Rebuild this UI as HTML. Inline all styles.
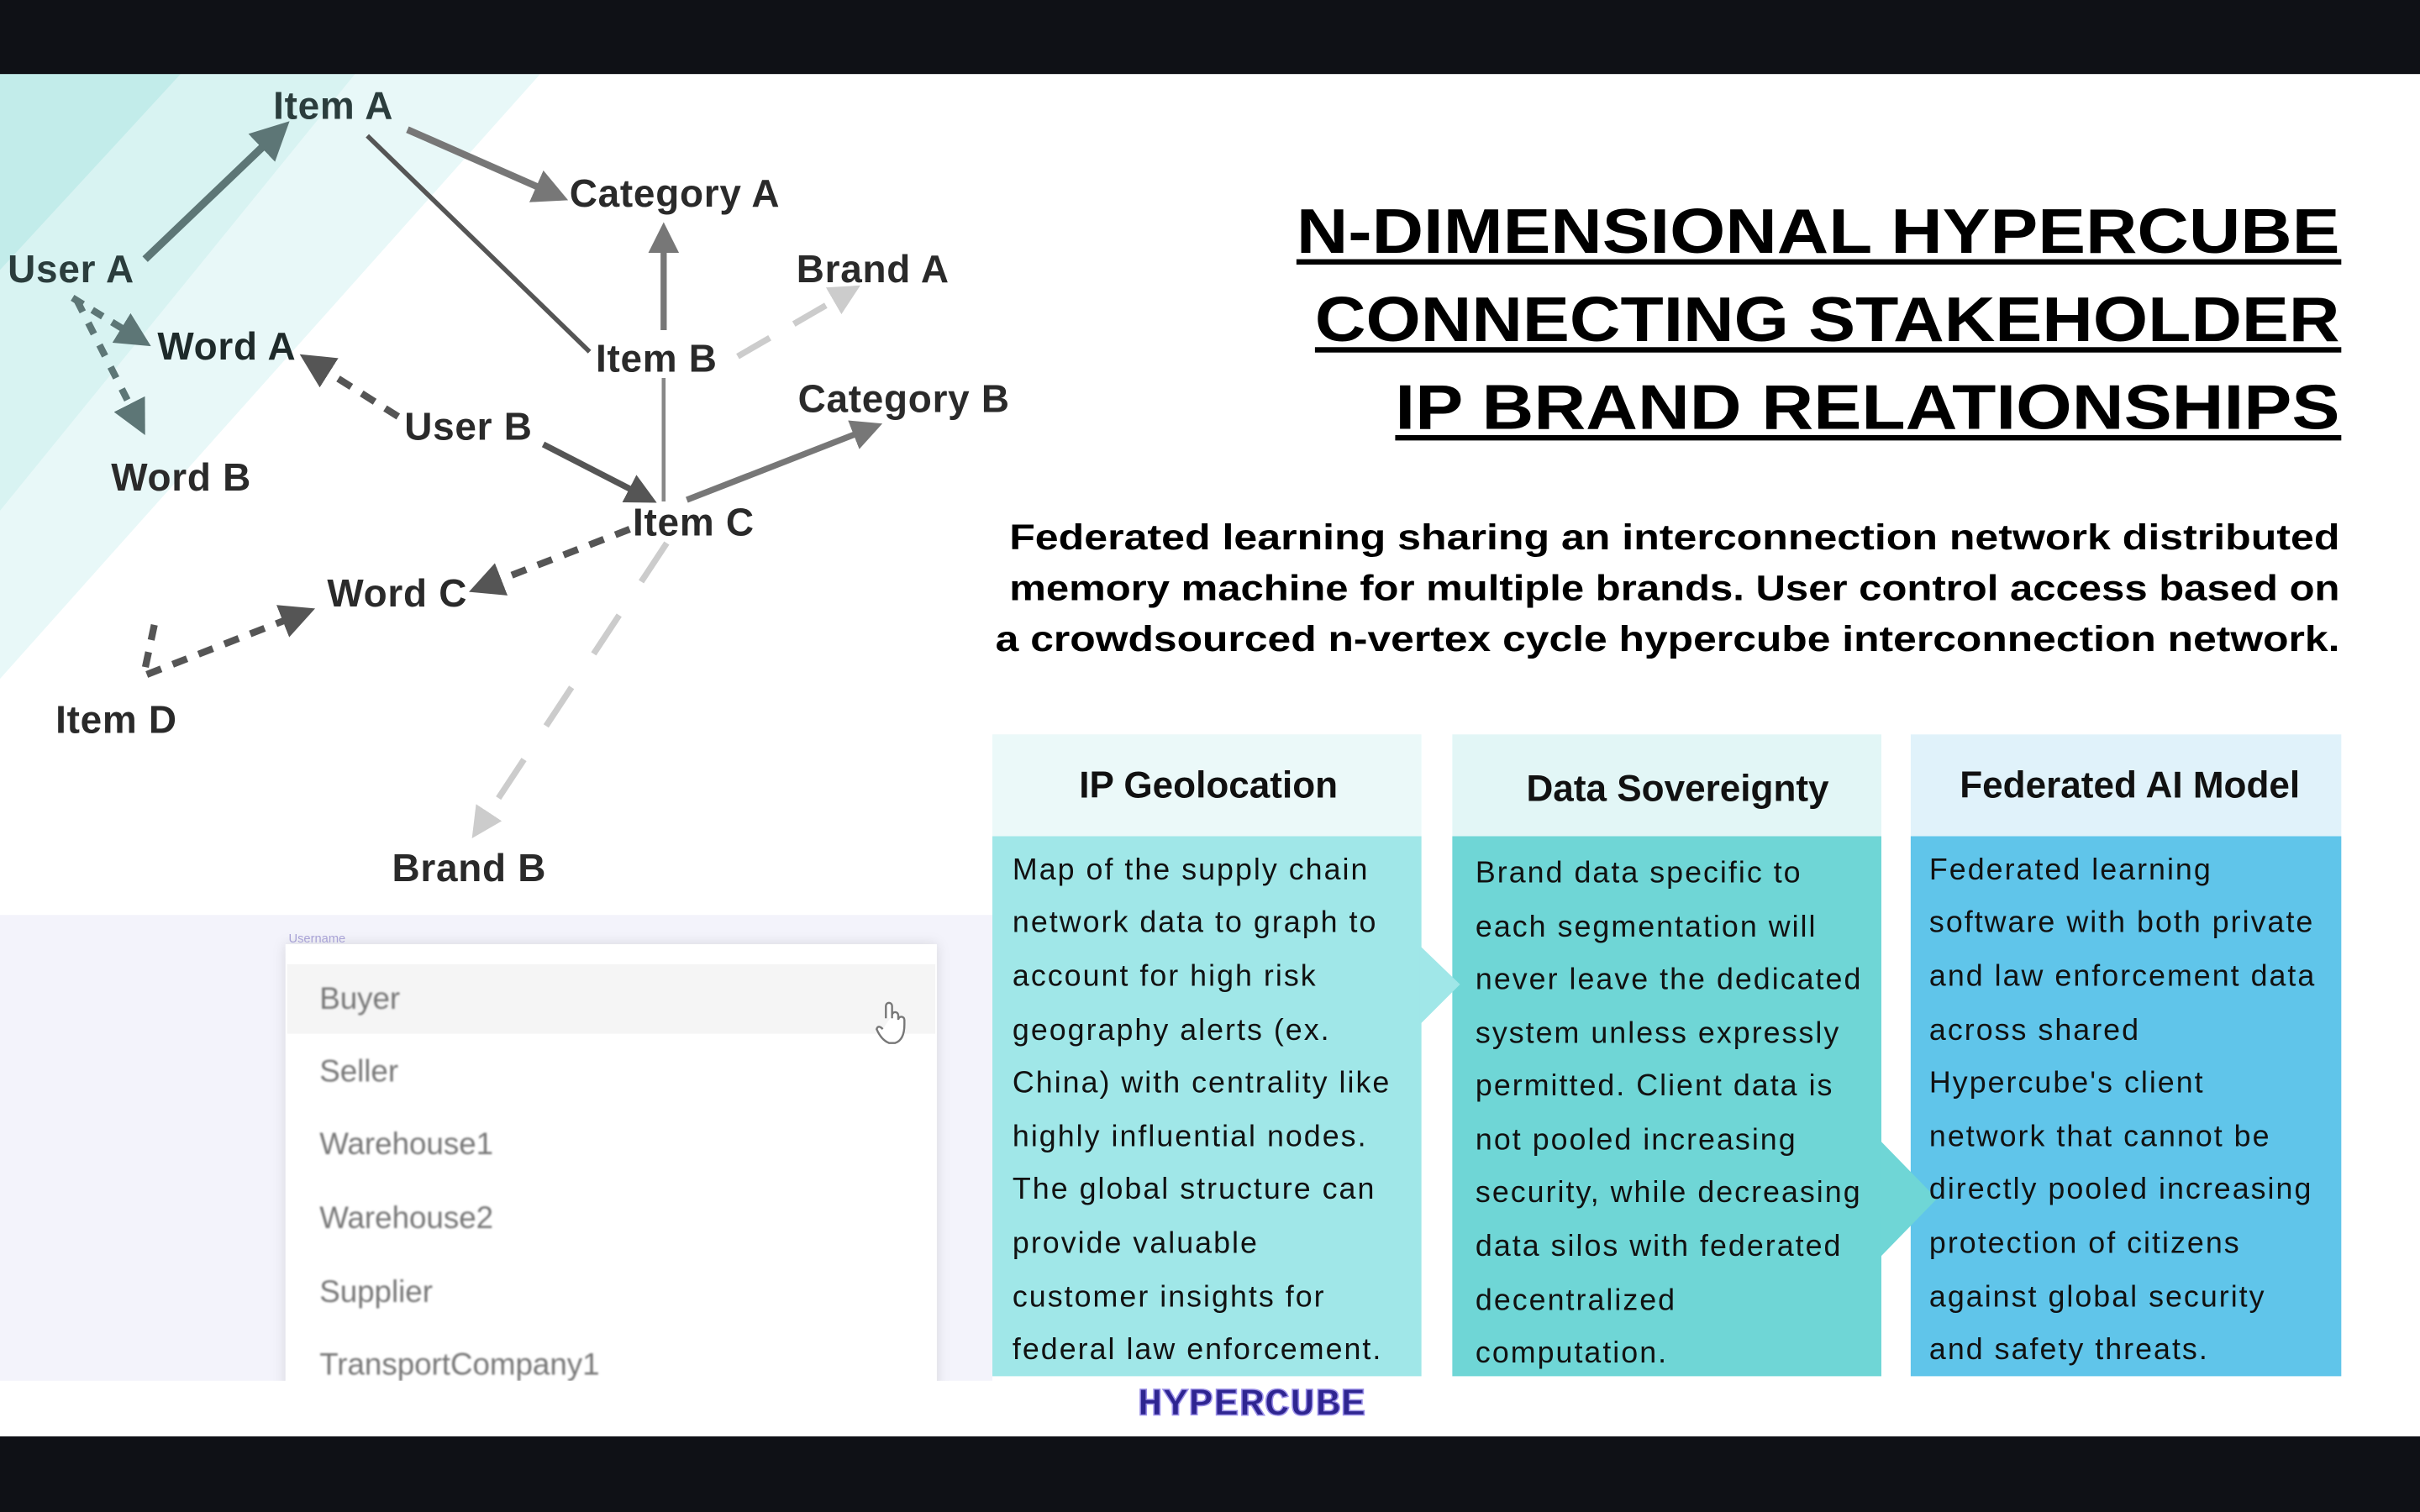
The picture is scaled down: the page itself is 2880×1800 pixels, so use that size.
<!DOCTYPE html>
<html><head><meta charset="utf-8"><style>
html,body{margin:0;padding:0;background:#fff;}
svg{display:block}
</style></head><body>
<svg width="2880" height="1800" viewBox="0 0 1568 980" xmlns="http://www.w3.org/2000/svg" font-family="Liberation Sans, sans-serif">
<defs>
<marker id="ad" viewBox="0 0 10 10" refX="8" refY="5" markerWidth="5" markerHeight="5" orient="auto"><path d="M0,0L10,5L0,10z" fill="#555"/></marker>
<marker id="at" viewBox="0 0 10 10" refX="8" refY="5" markerWidth="5" markerHeight="5" orient="auto"><path d="M0,0L10,5L0,10z" fill="#5d7676"/></marker>
<marker id="ag" viewBox="0 0 10 10" refX="8" refY="5" markerWidth="5" markerHeight="5" orient="auto"><path d="M0,0L10,5L0,10z" fill="#777"/></marker>
<marker id="al" viewBox="0 0 10 10" refX="8" refY="5" markerWidth="5" markerHeight="5" orient="auto"><path d="M0,0L10,5L0,10z" fill="#ccc"/></marker>
<filter id="sh" x="-10%" y="-10%" width="120%" height="120%"><feDropShadow dx="0" dy="0" stdDeviation="4" flood-color="#000" flood-opacity="0.12"/></filter>
<filter id="bl"><feGaussianBlur stdDeviation="0.6"/></filter>
</defs>
<rect width="1568" height="980" fill="#fff"/>
<polygon points="0,48 350,48 0,440" fill="#e8f8f8"/>
<polygon points="0,48 230,48 0,331" fill="#d8f3f2"/>
<polygon points="0,48 117,48 0,175" fill="#c2ecea"/>
<rect x="0" y="593" width="643" height="302" fill="#f3f3fb"/>
<rect x="185" y="612" width="422" height="300" fill="#fff" filter="url(#sh)"/>
<rect x="186" y="625" width="420" height="45" fill="#f5f5f5"/>
<text x="187" y="611" font-size="8" fill="#a9a3d6">Username</text>
<g font-size="20" fill="#777" filter="url(#bl)">
<text x="207" y="654">Buyer</text>
<text x="207" y="701">Seller</text>
<text x="207" y="748">Warehouse1</text>
<text x="207" y="796">Warehouse2</text>
<text x="207" y="844">Supplier</text>
<text x="207" y="891">TransportCompany1</text>
</g>
<path d="M574,660 v-8 a2,2 0 0 1 4,0 v8 M578,658 a2,2 0 0 1 4,0 v3 a2,2 0 0 1 4,0 v3 q0,10 -6,12 h-4 q-5,-2 -8,-9 q1,-3 4,0" fill="#fff" stroke="#777" stroke-width="1.3"/>
<rect x="0" y="895" width="1568" height="36" fill="#fff"/>
<rect x="0" y="0" width="1568" height="48" fill="#0f1116"/>
<rect x="0" y="931" width="1568" height="49" fill="#0f1116"/>
<g fill="none" stroke-linecap="butt">
<line x1="94" y1="168" x2="184" y2="82" stroke="#5d7676" stroke-width="5" marker-end="url(#at)"/>
<line x1="264" y1="84" x2="364" y2="128" stroke="#777" stroke-width="4.5" marker-end="url(#ag)"/>
<line x1="238" y1="88" x2="382" y2="228" stroke="#555" stroke-width="3"/>
<line x1="430" y1="214" x2="430" y2="148" stroke="#777" stroke-width="4" marker-end="url(#ag)"/>
<line x1="478" y1="231" x2="554" y2="187" stroke="#ccc" stroke-width="4" stroke-dasharray="24 18" marker-end="url(#al)"/>
<line x1="430" y1="245" x2="430" y2="325" stroke="#888" stroke-width="2.5"/>
<line x1="352" y1="288" x2="422" y2="324" stroke="#555" stroke-width="4" marker-end="url(#ad)"/>
<line x1="445" y1="324" x2="568" y2="276" stroke="#777" stroke-width="4" marker-end="url(#ag)"/>
<line x1="258" y1="270" x2="198" y2="232" stroke="#555" stroke-width="4.5" stroke-dasharray="10 8" marker-end="url(#ad)"/>
<line x1="408" y1="343" x2="308" y2="382" stroke="#555" stroke-width="4.5" stroke-dasharray="10 8" marker-end="url(#ad)"/>
<polyline points="100,405 93,438 200,396" stroke="#555" stroke-width="4.5" stroke-dasharray="10 8" marker-end="url(#ad)"/>
<line x1="47" y1="193" x2="94" y2="222" stroke="#5d7676" stroke-width="4.5" stroke-dasharray="8 7" marker-end="url(#at)"/>
<line x1="50" y1="195" x2="92" y2="278" stroke="#5d7676" stroke-width="4.5" stroke-dasharray="8 8" marker-end="url(#at)"/>
<line x1="432" y1="352" x2="308" y2="540" stroke="#ccc" stroke-width="4" stroke-dasharray="30 26" marker-end="url(#al)"/>
</g>
<g font-size="25" font-weight="bold" fill="#2a2a2a" letter-spacing="0.4">
<text x="177" y="77" fill="#2b3d3d">Item A</text>
<text x="369" y="134">Category A</text>
<text x="516" y="183">Brand A</text>
<text x="5" y="183" fill="#2b3d3d">User A</text>
<text x="102" y="233" fill="#1e2a2a">Word A</text>
<text x="386" y="241">Item B</text>
<text x="517" y="267">Category B</text>
<text x="262" y="285">User B</text>
<text x="72" y="318">Word B</text>
<text x="410" y="347">Item C</text>
<text x="212" y="393">Word C</text>
<text x="36" y="475">Item D</text>
<text x="254" y="571">Brand B</text>
</g>
<g font-size="41" font-weight="bold" fill="#000" text-anchor="end">
<text x="1516" y="164" textLength="676" lengthAdjust="spacingAndGlyphs">N-DIMENSIONAL HYPERCUBE</text>
<text x="1516" y="221" textLength="664" lengthAdjust="spacingAndGlyphs">CONNECTING STAKEHOLDER</text>
<text x="1516" y="278" textLength="612" lengthAdjust="spacingAndGlyphs">IP BRAND RELATIONSHIPS</text>
</g>
<rect x="840" y="168" width="677" height="3.5" fill="#000"/>
<rect x="852" y="225" width="665" height="3.5" fill="#000"/>
<rect x="904" y="282" width="613" height="3.5" fill="#000"/>
<g font-size="23" font-weight="bold" fill="#000" text-anchor="end">
<text x="1516" y="356" textLength="862" lengthAdjust="spacingAndGlyphs">Federated learning sharing an interconnection network distributed</text>
<text x="1516" y="389" textLength="862" lengthAdjust="spacingAndGlyphs">memory machine for multiple brands. User control access based on</text>
<text x="1516" y="422" textLength="871" lengthAdjust="spacingAndGlyphs">a crowdsourced n-vertex cycle hypercube interconnection network.</text>
</g>
<rect x="643" y="476" width="278" height="66" fill="#ebf9f9"/>
<rect x="941" y="476" width="278" height="66" fill="#e2f6f6"/>
<rect x="1238" y="476" width="279" height="66" fill="#e0f2fa"/>
<rect x="643" y="542" width="278" height="350" fill="#a0e7e8"/>
<rect x="941" y="542" width="278" height="350" fill="#6fd6d6"/>
<rect x="1238" y="542" width="279" height="350" fill="#60c5ea"/>
<polygon points="920,613 946,638 920,664" fill="#a0e7e8"/>
<polygon points="1218,739 1255,777 1218,815" fill="#6fd6d6"/>
<g font-size="24" font-weight="bold" fill="#111" text-anchor="middle">
<text x="783" y="517">IP Geolocation</text>
<text x="1087" y="519">Data Sovereignty</text>
<text x="1380" y="517">Federated AI Model</text>
</g>
<g font-size="19.5" fill="#111" letter-spacing="1.1">
<text x="656" y="570">Map of the supply chain</text>
<text x="656" y="604">network data to graph to</text>
<text x="656" y="639">account for high risk</text>
<text x="656" y="674">geography alerts (ex.</text>
<text x="656" y="708">China) with centrality like</text>
<text x="656" y="743">highly influential nodes.</text>
<text x="656" y="777">The global structure can</text>
<text x="656" y="812">provide valuable</text>
<text x="656" y="847">customer insights for</text>
<text x="656" y="881">federal law enforcement.</text>
<text x="956" y="572">Brand data specific to</text>
<text x="956" y="607">each segmentation will</text>
<text x="956" y="641">never leave the dedicated</text>
<text x="956" y="676">system unless expressly</text>
<text x="956" y="710">permitted. Client data is</text>
<text x="956" y="745">not pooled increasing</text>
<text x="956" y="779">security, while decreasing</text>
<text x="956" y="814">data silos with federated</text>
<text x="956" y="849">decentralized</text>
<text x="956" y="883">computation.</text>
<text x="1250" y="570">Federated learning</text>
<text x="1250" y="604">software with both private</text>
<text x="1250" y="639">and law enforcement data</text>
<text x="1250" y="674">across shared</text>
<text x="1250" y="708">Hypercube's client</text>
<text x="1250" y="743">network that cannot be</text>
<text x="1250" y="777">directly pooled increasing</text>
<text x="1250" y="812">protection of citizens</text>
<text x="1250" y="847">against global security</text>
<text x="1250" y="881">and safety threats.</text>
</g>
<text x="811" y="917" text-anchor="middle" font-family="Liberation Mono, monospace" font-weight="bold" font-size="25" textLength="148" lengthAdjust="spacingAndGlyphs" fill="#2e2590" stroke="#9a8fe8" stroke-width="0.8">HYPERCUBE</text>
</svg>
</body></html>
